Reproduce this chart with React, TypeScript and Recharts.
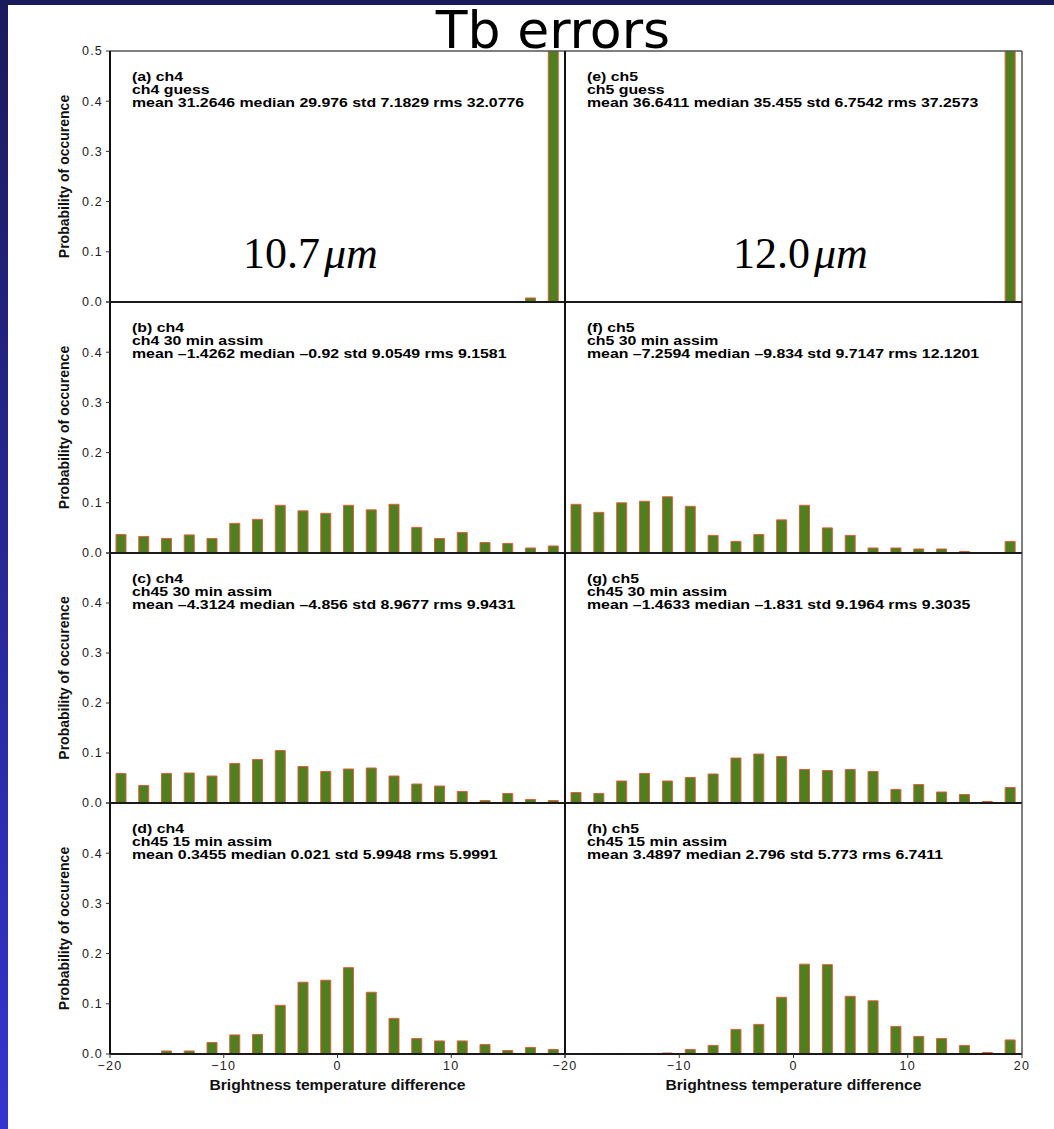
import { BarChart, Bar, XAxis, YAxis } from 'recharts'

// bin centres of the 2 K histogram bins
const binCenters = [-19, -17, -15, -13, -11, -9, -7, -5, -3, -1, 1, 3, 5, 7, 9, 11, 13, 15, 17, 19]

// probability of occurence per bin (last bin of the guess panels runs off the top)
const ch4Guess = [0, 0, 0, 0, 0, 0, 0, 0, 0, 0, 0, 0, 0, 0, 0, 0, 0, 0, 0.008, 0.99]
const ch5Guess = [0, 0, 0, 0, 0, 0, 0, 0, 0, 0, 0, 0, 0, 0, 0, 0, 0, 0, 0, 1.0]
const ch4Assim30 = [0.037, 0.033, 0.029, 0.036, 0.029, 0.059, 0.067, 0.095, 0.084, 0.079, 0.095, 0.086, 0.097, 0.051, 0.029, 0.041, 0.021, 0.019, 0.01, 0.014]
const ch5Assim30 = [0.097, 0.081, 0.1, 0.103, 0.112, 0.093, 0.035, 0.023, 0.037, 0.066, 0.095, 0.05, 0.035, 0.01, 0.01, 0.008, 0.008, 0.003, 0, 0.023]
const ch45Assim30Ch4 = [0.059, 0.035, 0.059, 0.06, 0.054, 0.079, 0.087, 0.105, 0.073, 0.063, 0.068, 0.07, 0.054, 0.038, 0.034, 0.023, 0.005, 0.019, 0.007, 0.005]
const ch45Assim30Ch5 = [0.021, 0.019, 0.044, 0.059, 0.044, 0.051, 0.058, 0.09, 0.098, 0.093, 0.067, 0.065, 0.067, 0.063, 0.027, 0.037, 0.022, 0.017, 0.003, 0.031]
const ch45Assim15Ch4 = [0.001, 0.001, 0.006, 0.006, 0.023, 0.038, 0.039, 0.097, 0.143, 0.147, 0.172, 0.123, 0.071, 0.031, 0.026, 0.026, 0.019, 0.007, 0.013, 0.009]
const ch45Assim15Ch5 = [0.001, 0.001, 0.001, 0.001, 0.002, 0.009, 0.017, 0.049, 0.059, 0.113, 0.179, 0.178, 0.115, 0.106, 0.055, 0.035, 0.031, 0.017, 0.003, 0.028]

const xTicks = [-20, -10, 0, 10, 20]
const yTicks = [0, 0.1, 0.2, 0.3, 0.4, 0.5]

const panels = [
  { values: ch4Guess, row: 0, col: 0, lines: ['(a) ch4', 'ch4 guess', 'mean 31.2646 median 29.976 std 7.1829 rms 32.0776'] },
  { values: ch5Guess, row: 0, col: 1, lines: ['(e) ch5', 'ch5 guess', 'mean 36.6411 median 35.455 std 6.7542 rms 37.2573'] },
  { values: ch4Assim30, row: 1, col: 0, lines: ['(b) ch4', 'ch4 30 min assim', 'mean \u20131.4262 median \u20130.92 std 9.0549 rms 9.1581'] },
  { values: ch5Assim30, row: 1, col: 1, lines: ['(f) ch5', 'ch5 30 min assim', 'mean \u20137.2594 median \u20139.834 std 9.7147 rms 12.1201'] },
  { values: ch45Assim30Ch4, row: 2, col: 0, lines: ['(c) ch4', 'ch45 30 min assim', 'mean \u20134.3124 median \u20134.856 std 8.9677 rms 9.9431'] },
  { values: ch45Assim30Ch5, row: 2, col: 1, lines: ['(g) ch5', 'ch45 30 min assim', 'mean \u20131.4633 median \u20131.831 std 9.1964 rms 9.3035'] },
  { values: ch45Assim15Ch4, row: 3, col: 0, lines: ['(d) ch4', 'ch45 15 min assim', 'mean 0.3455 median 0.021 std 5.9948 rms 5.9991'] },
  { values: ch45Assim15Ch5, row: 3, col: 1, lines: ['(h) ch5', 'ch45 15 min assim', 'mean 3.4897 median 2.796 std 5.773 rms 6.7411'] },
]

// plot-area layout in page pixels
const colLeft = [110, 565]
const colWidth = [455, 457]
const rowTop = [51, 302, 553, 803]
const rowHeight = [251, 251, 250, 251]
const lineOffsets = [30, 43, 56]

const YW = 50
const RW = 10
const TH = 10
const BH = 40

const SANS = '"Liberation Sans", Arial, sans-serif'
const GREEN = '#4f7f1f'
const EDGE = '#e0603a'

const fmtX = (v: number) => (v < 0 ? '\u2212' + Math.abs(v) : String(v))

function Panel({ values, row, col }: { values: number[]; row: number; col: number }) {
  const data = binCenters.map((c, i) => ({ bin: c, p: values[i] }))
  const plotW = colWidth[col]
  const plotH = rowHeight[row]
  const isBottom = row === 3
  const isLeft = col === 0
  const tickStyle = { fontSize: 12.5, fill: '#222', fontFamily: SANS, letterSpacing: 1.2 }

  return (
    <div style={{ position: 'absolute', left: colLeft[col] - YW, top: rowTop[row] - TH }}>
      <BarChart
        width={plotW + YW + RW}
        height={plotH + TH + BH}
        data={data}
        margin={{ top: 0, right: 0, bottom: 0, left: 0 }}
      >
        <XAxis xAxisId="cat" dataKey="bin" type="category" hide />
        <XAxis
          xAxisId="b"
          dataKey="bin"
          type="number"
          domain={[-20, 20]}
          allowDataOverflow
          ticks={xTicks}
          height={BH}
          tickSize={4}
          tickMargin={3}
          axisLine={{ stroke: '#1a1a1a', strokeWidth: 2 }}
          tickLine={{ stroke: '#333' }}
          tick={isBottom ? tickStyle : false}
          tickFormatter={(v: number) => (isLeft && v === 20 ? '' : fmtX(v))}
        />
        <XAxis
          xAxisId="bm"
          dataKey="bin"
          type="number"
          domain={[-20, 20]}
          allowDataOverflow
          ticks={xTicks}
          mirror
          tickSize={4}
          axisLine={false}
          tickLine={{ stroke: '#333' }}
          tick={false}
        />
        <XAxis
          xAxisId="t"
          dataKey="bin"
          type="number"
          orientation="top"
          domain={[-20, 20]}
          allowDataOverflow
          ticks={xTicks}
          height={TH}
          tickSize={4}
          axisLine={{ stroke: row === 0 ? '#555' : '#1a1a1a', strokeWidth: row === 0 ? 1.5 : 2 }}
          tickLine={{ stroke: '#333' }}
          tick={false}
        />
        <XAxis
          xAxisId="tm"
          dataKey="bin"
          type="number"
          orientation="top"
          domain={[-20, 20]}
          allowDataOverflow
          ticks={xTicks}
          mirror
          tickSize={4}
          axisLine={false}
          tickLine={{ stroke: '#333' }}
          tick={false}
        />
        <YAxis
          yAxisId="l"
          dataKey="p"
          type="number"
          domain={[0, 0.5]}
          allowDataOverflow
          ticks={yTicks}
          width={YW}
          tickSize={4}
          tickMargin={3}
          axisLine={{ stroke: '#111', strokeWidth: 2 }}
          tickLine={{ stroke: '#333' }}
          tick={isLeft ? tickStyle : false}
          tickFormatter={(v: number) => (row > 0 && v === 0.5 ? '' : v.toFixed(1))}
        />
        <YAxis
          yAxisId="lm"
          dataKey="p"
          type="number"
          domain={[0, 0.5]}
          allowDataOverflow
          ticks={yTicks}
          mirror
          tickSize={4}
          axisLine={false}
          tickLine={{ stroke: '#333' }}
          tick={false}
        />
        <YAxis
          yAxisId="r"
          dataKey="p"
          type="number"
          orientation="right"
          domain={[0, 0.5]}
          allowDataOverflow
          ticks={yTicks}
          width={RW}
          tickSize={4}
          axisLine={{ stroke: isLeft ? '#111' : '#555', strokeWidth: isLeft ? 2 : 1.5 }}
          tickLine={{ stroke: '#333' }}
          tick={false}
        />
        <YAxis
          yAxisId="rm"
          dataKey="p"
          type="number"
          orientation="right"
          domain={[0, 0.5]}
          allowDataOverflow
          ticks={yTicks}
          mirror
          tickSize={4}
          axisLine={false}
          tickLine={{ stroke: '#333' }}
          tick={false}
        />
        <Bar
          xAxisId="cat"
          yAxisId="l"
          dataKey="p"
          barSize={10}
          fill={GREEN}
          stroke={EDGE}
          strokeWidth={1}
          isAnimationActive={false}
        />
      </BarChart>
    </div>
  )
}

export default function App() {
  return (
    <div
      style={{
        position: 'absolute',
        left: 0,
        top: 0,
        width: 1054,
        height: 1129,
        overflow: 'hidden',
        background: 'linear-gradient(to bottom, #1b1b5c, #3434cf)',
      }}
    >
      <div style={{ position: 'absolute', left: 8, top: 5, right: 0, bottom: 0, background: '#fff' }} />

      {panels.map((p) => (
        <Panel key={p.lines[0]} values={p.values} row={p.row} col={p.col} />
      ))}

      <svg width={1054} height={1129} style={{ position: 'absolute', left: 0, top: 0, pointerEvents: 'none' }}>
        <text x={553} y={48} textAnchor="middle" fontFamily='"DejaVu Sans", sans-serif' fontSize={52} fill="#000">
          Tb errors
        </text>

        {rowTop.map((t, r) => (
          <text
            key={'yl' + r}
            transform={`translate(69, ${t + rowHeight[r] / 2}) rotate(-90)`}
            textAnchor="middle"
            fontFamily={SANS}
            fontWeight="bold"
            fontSize={14}
            fill="#111"
          >
            Probability of occurence
          </text>
        ))}

        {panels.map((p) =>
          p.lines.map((line, i) => (
            <text
              key={p.lines[0] + i}
              transform={`translate(${colLeft[p.col] + 22}, ${rowTop[p.row] + lineOffsets[i]}) scale(1.27, 1)`}
              fontFamily={SANS}
              fontWeight="bold"
              fontSize={12.5}
              fill="#000"
            >
              {line}
            </text>
          ))
        )}

        <text x={243} y={268} fontFamily='"Liberation Serif", serif' fontSize={44} fill="#000">
          10.7<tspan dx={4} fontStyle="italic">{'\u03bcm'}</tspan>
        </text>
        <text x={733} y={268} fontFamily='"Liberation Serif", serif' fontSize={44} fill="#000">
          12.0<tspan dx={4} fontStyle="italic">{'\u03bcm'}</tspan>
        </text>

        {colLeft.map((l, c) => (
          <text
            key={'xl' + c}
            transform={`translate(${l + colWidth[c] / 2}, 1090) scale(1.12, 1)`}
            textAnchor="middle"
            fontFamily={SANS}
            fontWeight="bold"
            fontSize={14}
            fill="#111"
          >
            Brightness temperature difference
          </text>
        ))}
      </svg>
    </div>
  )
}
